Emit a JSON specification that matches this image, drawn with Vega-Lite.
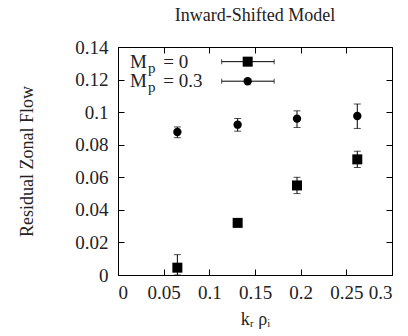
{
  "$schema": "https://vega.github.io/schema/vega-lite/v6.json",
  "width": 274,
  "height": 228,
  "autosize": {"type": "none"},
  "padding": {"left": 118, "top": 47, "right": 16, "bottom": 61},
  "background": "white",
  "title": {"text": "Inward-Shifted Model", "font": "Liberation Serif", "fontSize": 18, "fontWeight": "normal", "color": "#222", "offset": -5, "baseline": "bottom", "anchor": "middle"},
  "config": {
    "view": {"stroke": "black", "strokeWidth": 1},
    "axis": {"grid": false, "domain": false, "tickColor": "black", "tickSize": -6, "labelFont": "Liberation Serif", "labelFontSize": 19, "labelColor": "#222", "titleFont": "Liberation Serif", "titleFontSize": 18, "titleFontWeight": "normal", "titleColor": "#222"}
  },
  "datasets": {
    "pts": [
      {"model": "0", "k": 0.065, "flow": 0.0045, "lo": 0.0, "hi": 0.0125},
      {"model": "0", "k": 0.131, "flow": 0.032, "lo": 0.031, "hi": 0.033},
      {"model": "0", "k": 0.196, "flow": 0.055, "lo": 0.050, "hi": 0.060},
      {"model": "0", "k": 0.262, "flow": 0.071, "lo": 0.066, "hi": 0.076},
      {"model": "0.3", "k": 0.065, "flow": 0.0878, "lo": 0.0843, "hi": 0.0909},
      {"model": "0.3", "k": 0.131, "flow": 0.0923, "lo": 0.0883, "hi": 0.0961},
      {"model": "0.3", "k": 0.196, "flow": 0.096, "lo": 0.0906, "hi": 0.1008},
      {"model": "0.3", "k": 0.262, "flow": 0.0976, "lo": 0.090, "hi": 0.105}
    ],
    "leg": [
      {"model": "0", "label": "= 0", "ly": 0.131, "x0": 0.1135, "xm": 0.142, "x1": 0.171},
      {"model": "0.3", "label": "= 0.3", "ly": 0.119, "x0": 0.1135, "xm": 0.142, "x1": 0.171}
    ]
  },
  "resolve": {"axis": {"x": "independent", "y": "independent"}},
  "layer": [
    {
      "data": {"name": "pts"},
      "mark": {"type": "rule", "color": "black", "strokeWidth": 1},
      "encoding": {
        "x": {"field": "k", "type": "quantitative", "scale": {"domain": [0, 0.3], "nice": false, "zero": false},
              "axis": {"orient": "bottom", "values": [0, 0.05, 0.1, 0.15, 0.2, 0.25, 0.3], "format": "~g", "labelPadding": 14, "title": "kᵣ ρᵢ", "titlePadding": 8}},
        "y": {"field": "lo", "type": "quantitative", "scale": {"domain": [0, 0.14], "nice": false, "zero": false},
              "axis": {"orient": "left", "values": [0, 0.02, 0.04, 0.06, 0.08, 0.1, 0.12, 0.14], "format": "~g", "labelPadding": 16, "title": "Residual Zonal Flow", "titlePadding": 38}},
        "y2": {"field": "hi"}
      }
    },
    {
      "data": {"name": "pts"},
      "mark": {"type": "tick", "orient": "horizontal", "color": "black", "size": 7, "thickness": 1},
      "encoding": {
        "x": {"field": "k", "type": "quantitative", "axis": {"orient": "top", "values": [0, 0.05, 0.1, 0.15, 0.2, 0.25, 0.3], "labels": false, "title": null}},
        "y": {"field": "lo", "type": "quantitative", "axis": {"orient": "right", "values": [0, 0.02, 0.04, 0.06, 0.08, 0.1, 0.12, 0.14], "labels": false, "title": null}}
      }
    },
    {
      "data": {"name": "pts"},
      "mark": {"type": "tick", "orient": "horizontal", "color": "black", "size": 7, "thickness": 1},
      "encoding": {
        "x": {"field": "k", "type": "quantitative", "axis": null},
        "y": {"field": "hi", "type": "quantitative", "axis": null}
      }
    },
    {
      "data": {"name": "pts"},
      "transform": [{"filter": "datum.model == '0'"}],
      "mark": {"type": "point", "shape": "square", "filled": true, "color": "black", "size": 100, "opacity": 1},
      "encoding": {
        "x": {"field": "k", "type": "quantitative", "axis": null},
        "y": {"field": "flow", "type": "quantitative", "axis": null}
      }
    },
    {
      "data": {"name": "pts"},
      "transform": [{"filter": "datum.model == '0.3'"}],
      "mark": {"type": "point", "shape": "circle", "filled": true, "color": "black", "size": 70, "opacity": 1},
      "encoding": {
        "x": {"field": "k", "type": "quantitative", "axis": null},
        "y": {"field": "flow", "type": "quantitative", "axis": null}
      }
    },
    {
      "data": {"name": "leg"},
      "mark": {"type": "rule", "color": "black", "strokeWidth": 1},
      "encoding": {
        "x": {"field": "x0", "type": "quantitative", "axis": null},
        "x2": {"field": "x1"},
        "y": {"field": "ly", "type": "quantitative", "axis": null}
      }
    },
    {
      "data": {"name": "leg"},
      "mark": {"type": "tick", "orient": "vertical", "color": "black", "size": 5, "thickness": 1},
      "encoding": {
        "x": {"field": "x0", "type": "quantitative", "axis": null},
        "y": {"field": "ly", "type": "quantitative", "axis": null}
      }
    },
    {
      "data": {"name": "leg"},
      "mark": {"type": "tick", "orient": "vertical", "color": "black", "size": 5, "thickness": 1},
      "encoding": {
        "x": {"field": "x1", "type": "quantitative", "axis": null},
        "y": {"field": "ly", "type": "quantitative", "axis": null}
      }
    },
    {
      "data": {"name": "leg"},
      "transform": [{"filter": "datum.model == '0'"}],
      "mark": {"type": "point", "shape": "square", "filled": true, "color": "black", "size": 100, "opacity": 1},
      "encoding": {
        "x": {"field": "xm", "type": "quantitative", "axis": null},
        "y": {"field": "ly", "type": "quantitative", "axis": null}
      }
    },
    {
      "data": {"name": "leg"},
      "transform": [{"filter": "datum.model == '0.3'"}],
      "mark": {"type": "point", "shape": "circle", "filled": true, "color": "black", "size": 70, "opacity": 1},
      "encoding": {
        "x": {"field": "xm", "type": "quantitative", "axis": null},
        "y": {"field": "ly", "type": "quantitative", "axis": null}
      }
    },
    {
      "data": {"name": "leg"},
      "mark": {"type": "text", "align": "left", "baseline": "middle", "font": "Liberation Serif", "fontSize": 19, "color": "#222"},
      "encoding": {
        "x": {"datum": 0.0131, "type": "quantitative", "axis": null},
        "y": {"field": "ly", "type": "quantitative", "axis": null},
        "text": {"value": "M"}
      }
    },
    {
      "data": {"name": "leg"},
      "mark": {"type": "text", "align": "left", "baseline": "middle", "font": "Liberation Serif", "fontSize": 15, "color": "#222", "dy": 6},
      "encoding": {
        "x": {"datum": 0.0328, "type": "quantitative", "axis": null},
        "y": {"field": "ly", "type": "quantitative", "axis": null},
        "text": {"value": "p"}
      }
    },
    {
      "data": {"name": "leg"},
      "mark": {"type": "text", "align": "left", "baseline": "middle", "font": "Liberation Serif", "fontSize": 19, "color": "#222"},
      "encoding": {
        "x": {"datum": 0.0496, "type": "quantitative", "axis": null},
        "y": {"field": "ly", "type": "quantitative", "axis": null},
        "text": {"field": "label"}
      }
    }
  ]
}
